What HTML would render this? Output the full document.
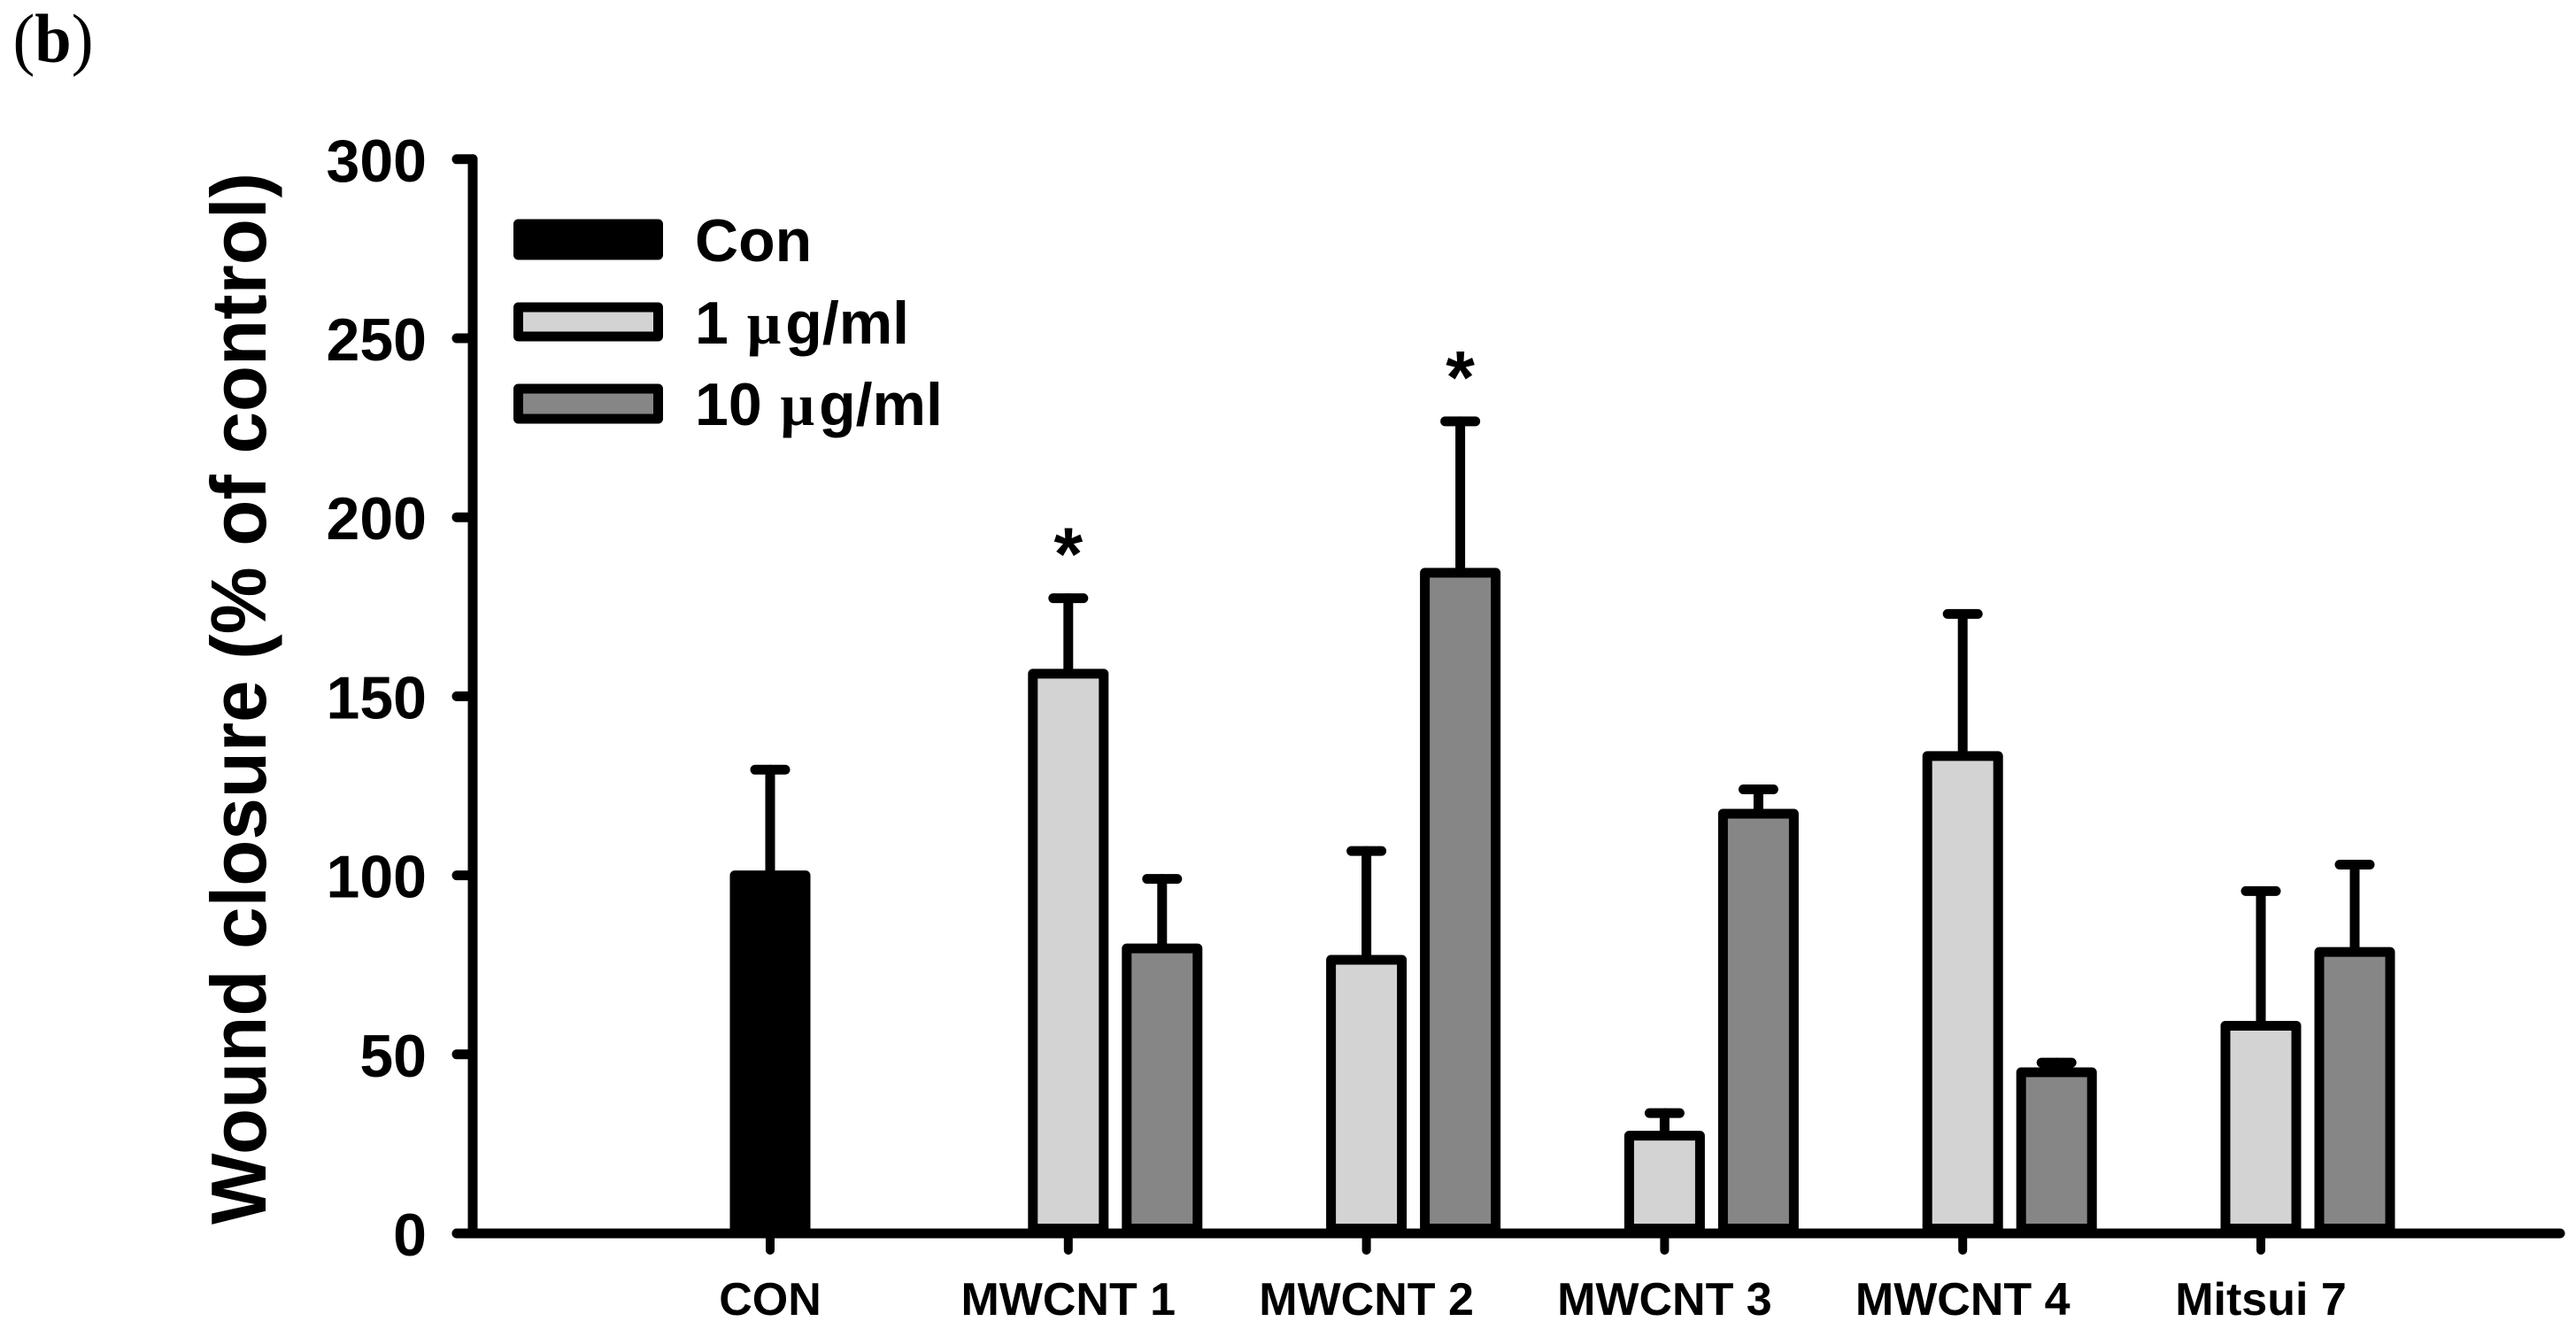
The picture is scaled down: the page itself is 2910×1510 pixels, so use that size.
<!DOCTYPE html>
<html lang="en">
<head>
<meta charset="utf-8">
<title>Wound closure chart</title>
<style>
  html, body { margin: 0; padding: 0; background: #fff; }
  svg { display: block; }
  text { font-family: "Liberation Sans", Arial, sans-serif; font-weight: bold; fill: #000; }
</style>
</head>
<body>
<svg id="chart" xmlns="http://www.w3.org/2000/svg" width="2910" height="1510" viewBox="0 0 2910 1510">
  <rect x="0" y="0" width="2910" height="1510" fill="#fff"/>
  <text x="14.5" y="70" textLength="91" lengthAdjust="spacingAndGlyphs" style="font-family:'Liberation Serif',serif;font-weight:normal;font-size:78px">(<tspan font-weight="bold">b</tspan>)</text>
  <text transform="translate(300,1383) rotate(-90)" font-size="88" textLength="1188" lengthAdjust="spacingAndGlyphs">Wound closure (% of control)</text>
  <g id="marks"></g>
  <g id="legend">
    <g>
      <rect x="585.5" y="253" width="158" height="35" fill="#000" stroke="#000" stroke-width="11" stroke-linejoin="round"/>
      <text x="785" y="295" font-size="68">Con</text>
    </g>
    <g>
      <rect x="585.5" y="347" width="158" height="33" fill="#d3d3d3" stroke="#000" stroke-width="11" stroke-linejoin="round"/>
      <text x="785" y="388" font-size="68">1 <tspan dx="2" style="font-family:'Liberation Serif',serif">μ</tspan><tspan dx="5">g/ml</tspan></text>
    </g>
    <g>
      <rect x="585.5" y="439" width="158" height="34" fill="#868686" stroke="#000" stroke-width="11" stroke-linejoin="round"/>
      <text x="785" y="480" font-size="68">10 <tspan dx="2" style="font-family:'Liberation Serif',serif">μ</tspan><tspan dx="5">g/ml</tspan></text>
    </g>
  </g>
</svg>
<script>
const categories = ["CON", "MWCNT 1", "MWCNT 2", "MWCNT 3", "MWCNT 4", "Mitsui 7"];
const yTicks = [0, 50, 100, 150, 200, 250, 300];
const conValues = [100, null, null, null, null, null];
const conErrors = [29.5, null, null, null, null, null];
const lowDoseValues = [null, 156.3, 76.4, 27.3, 133.3, 58];
const lowDoseErrors = [null, 21.1, 30.4, 6.3, 39.7, 37.6];
const highDoseValues = [null, 79.6, 184.5, 117.2, 45, 78.6];
const highDoseErrors = [null, 19.4, 42.3, 6.8, 2.7, 24.4];
const lowDoseSignificant = [false, true, false, false, false, false];
const highDoseSignificant = [false, false, true, false, false, false];

const NS = "http://www.w3.org/2000/svg";
const marks = document.getElementById("marks");
const yZero = 1393, yPerUnit = 4.044;
const xFirst = 870, xStep = 336.8, highOffset = 106;
const barWidth = 80, lineW = 11, capHalf = 17;

function yScale(v) { return yZero - v * yPerUnit; }
function xScale(i) { return xFirst + i * xStep; }

function make(tag, attrs, text) {
  const el = document.createElementNS(NS, tag);
  for (const k in attrs) el.setAttribute(k, attrs[k]);
  if (text !== undefined) el.textContent = text;
  marks.appendChild(el);
  return el;
}

function drawLine(x1, y1, x2, y2, name) {
  const el = make("line", { x1, y1, x2, y2, stroke: "#000", "stroke-width": lineW, "stroke-linecap": "round" });
  
  
  return el;
}

function drawBar(cx, value, error, fill, name) {
  const top = yScale(value), cap = yScale(value + error);
  const stem = drawLine(cx, top, cx, cap, name + "-error-stem");
  const whisker = drawLine(cx - capHalf, cap, cx + capHalf, cap, name + "-error-cap");
  const bar = make("rect", {
    x: cx - barWidth / 2, y: top, width: barWidth, height: yZero - 5.5 - top,
    fill, stroke: "#000", "stroke-width": lineW, "stroke-linejoin": "round"
  });
  
  
}

function drawStar(cx, value, error, name) {
  const star = make("text", { x: cx, y: yScale(value + error) - 21, "font-size": 84, "text-anchor": "middle" }, "*");
  
  
}

categories.forEach((cat, i) => {
  const x = xScale(i);
  const slug = cat.toLowerCase().replace(/\s+/g, "-");
  if (conValues[i] !== null) {
    drawBar(x, conValues[i], conErrors[i], "#000", "bar-con-" + slug);
  }
  if (lowDoseValues[i] !== null) {
    drawBar(x, lowDoseValues[i], lowDoseErrors[i], "#d3d3d3", "bar-1ug-" + slug);
    if (lowDoseSignificant[i]) drawStar(x, lowDoseValues[i], lowDoseErrors[i], "significance-star-1ug-" + slug);
  }
  if (highDoseValues[i] !== null) {
    drawBar(x + highOffset, highDoseValues[i], highDoseErrors[i], "#868686", "bar-10ug-" + slug);
    if (highDoseSignificant[i]) drawStar(x + highOffset, highDoseValues[i], highDoseErrors[i], "significance-star-10ug-" + slug);
  }
});

const yAxis = drawLine(534, yScale(0), 534, yScale(300), "y-axis-line");
const xAxis = drawLine(516, yScale(0), 2892, yScale(0), "x-axis-line");

yTicks.forEach((t) => {
  const y = yScale(t);
  drawLine(516, y, 534, y, "y-tick-" + t);
  const label = make("text", { x: 482, y: y + 25, "font-size": 68, "text-anchor": "end" }, String(t));
  
  
});

categories.forEach((cat, i) => {
  const x = xScale(i);
  const slug = cat.toLowerCase().replace(/\s+/g, "-");
  const tick = make("line", { x1: x, y1: yZero, x2: x, y2: 1412, stroke: "#000", "stroke-width": 10, "stroke-linecap": "round" });
  
  
  const label = make("text", { x, y: 1485, "font-size": 52, "text-anchor": "middle" }, cat);
  
  
});
</script>
</body>
</html>
